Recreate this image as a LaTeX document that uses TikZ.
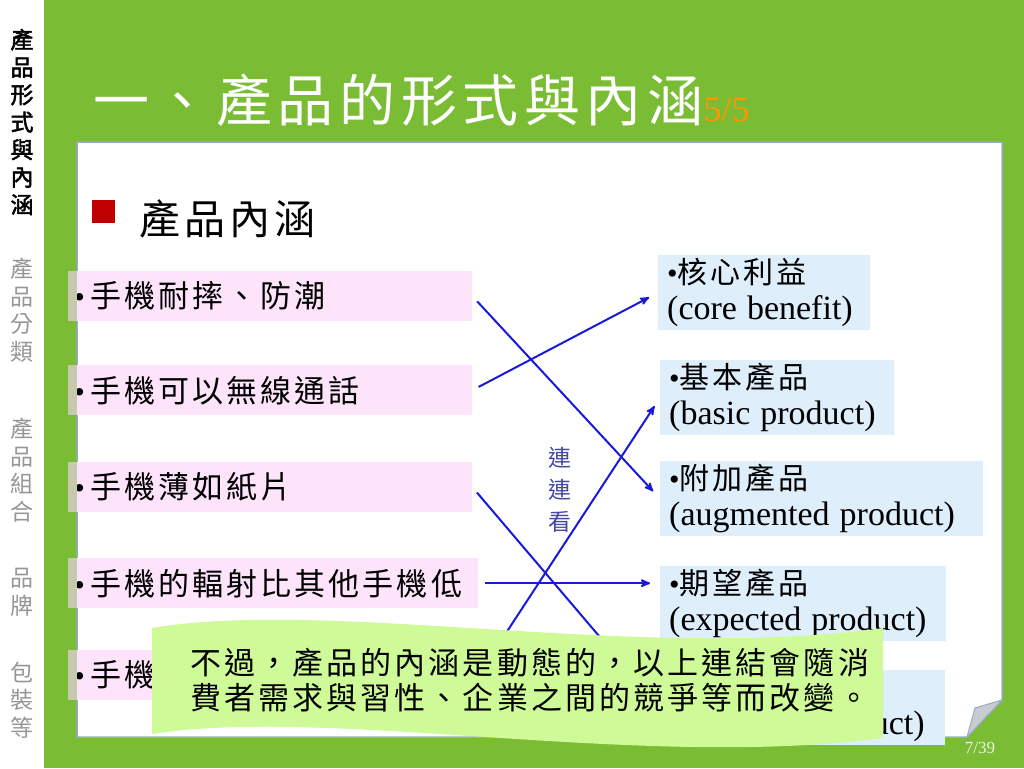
\documentclass[tikz,border=0pt]{standalone}
\usepackage{fontspec}
\setmainfont{Liberation Serif}
\newfontfamily\cjk[LetterSpace=10]{Noto Sans CJK TC}
\newfontfamily\cjkplain{Noto Sans CJK TC}
\newfontfamily\cjkbold[FakeBold=2]{Noto Sans CJK TC}
\usepackage{tikz}
\usetikzlibrary{
  arrows,
  chains,
  scopes,
  positioning
}
\definecolor{slidegreen}{RGB}{122,188,52}
\definecolor{panelline}{RGB}{150,172,194}
\definecolor{featurepink}{RGB}{253,228,250}
\definecolor{stubtan}{RGB}{200,200,176}
\definecolor{levelblue}{RGB}{222,238,251}
\definecolor{linkblue}{RGB}{25,25,215}
\definecolor{hintblue}{RGB}{70,70,165}
\definecolor{notegreen}{RGB}{206,250,152}
\definecolor{bulletred}{RGB}{192,0,0}
\definecolor{titleorange}{RGB}{255,150,0}
\definecolor{sidegray}{RGB}{150,150,150}
\definecolor{curlgray}{RGB}{200,204,208}

\begin{document}
\begin{tikzpicture}[x=1pt,y=-1pt,
      feature/.style={
         rectangle,
         anchor=north west,
         fill=featurepink,
         inner xsep=6pt,
         inner ysep=0pt,
         minimum height=50pt,
         align=left,
         font=\fontsize{31}{36}\selectfont
      },
      level/.style={
         rectangle,
         anchor=north west,
         fill=levelblue,
         inner xsep=9pt,
         inner ysep=0pt,
         minimum height=75pt,
         align=left,
         font=\fontsize{30}{36}\selectfont
      },
      sidebar/.style={
         align=center,
         inner sep=0pt,
         font=\fontsize{23}{27.5}\selectfont\cjkplain
      },
      point/.style={coordinate},>=stealth',
      tip/.style={->,draw=linkblue,line width=2pt,shorten >=10pt,shorten <=7pt},
    ]
    \useasboundingbox (0,0) rectangle (1024,768);
    % slide background
    \fill[slidegreen] (0,0) rectangle (1024,768);
    \fill[white] (0,0) rectangle (44,768);
    \node (side1) [sidebar, font=\fontsize{23}{27.5}\selectfont\cjkbold] at (22,122) {產\\品\\形\\式\\與\\內\\涵};
    \node (side2) [sidebar, text=sidegray] at (22,310) {產\\品\\分\\類};
    \node (side3) [sidebar, text=sidegray] at (22,470) {產\\品\\組\\合};
    \node (side4) [sidebar, text=sidegray] at (22,592) {品\\牌};
    \node (side5) [sidebar, text=sidegray] at (22,700) {包\\裝\\等};
    \node (title) [anchor=west, inner sep=0pt, text=white] at (93,100)
       {\fontsize{56}{60}\selectfont\cjk 一、產品的形式與內涵{\rmfamily\fontsize{36}{36}\selectfont\color{titleorange}5/5}};
    % content panel with curled corner
    \filldraw[fill=white, draw=panelline, line width=1.5pt]
       (77,142) -- (1002,142) -- (1002,700) -- (967,737) -- (77,737) -- cycle;
    \filldraw[fill=curlgray, draw=panelline, line width=1pt]
       (1002,700) -- (975,708) -- (967,737) -- cycle;
    \node (page) [text=white!85!slidegreen] at (980,748) {\fontsize{17}{17}\selectfont 7/39};
    \node (mark) [rectangle, fill=bulletred, minimum size=23pt, inner sep=0pt, anchor=north west] at (92,200) {};
    \node (head) [anchor=west, inner sep=0pt] at (139,219) {\fontsize{41}{44}\selectfont\cjk 產品內涵};
    % left column
    \node (n11) [feature, text width=392pt] at (68,271) {•\hspace{5pt}{\cjk 手機耐摔、防潮}};
    \node (n12) [feature, text width=392pt] at (68,365) {•\hspace{5pt}{\cjk 手機可以無線通話}};
    \node (n13) [feature, text width=392pt] at (68,462) {•\hspace{5pt}{\cjk 手機薄如紙片}};
    \node (n14) [feature, text width=398pt] at (68,558) {•\hspace{5pt}{\cjk 手機的輻射比其他手機低}};
    \node (n15) [feature, text width=398pt] at (68,650) {•\hspace{5pt}{\cjk 手機}};
    \foreach \n in {n11,n12,n13,n14,n15}
       \fill[stubtan] (\n.north west) rectangle ([xshift=9pt]\n.south west);
    % right column
    \node (n21) [level, text width=194pt] at (658,255) {•{\cjk 核心利益}\\{\fontsize{34}{36}\selectfont (core benefit)}};
    \node (n22) [level, text width=216pt] at (660,360) {•{\cjk 基本產品}\\{\fontsize{34}{36}\selectfont (basic product)}};
    \node (n23) [level, text width=305pt] at (660,461) {•{\cjk 附加產品}\\{\fontsize{34}{36}\selectfont (augmented product)}};
    \node (n24) [level, text width=268pt] at (660,566) {•{\cjk 期望產品}\\{\fontsize{34}{36}\selectfont (expected product)}};
    \node (n25) [level, text width=267pt] at (660,670) {•{\cjk 潛在產品}\\{\fontsize{34}{36}\selectfont (potential product)}};
    \node (hint) [sidebar, text=hintblue, font=\fontsize{23}{32}\selectfont\cjkplain] at (560,490) {連\\連\\看};
    % end points of the links
    \node (e1) [point] at (n11.east) {};
    \node (e2) [point] at (n12.east) {};
    \node (e3) [point] at (n13.east) {};
    \node (e4) [point] at (n14.east) {};
    \node (e5) [point] at (n15.east) {};
    \node (w1) [point] at (n21.west) {};
    \node (w2) [point] at (n22.west) {};
    \node (w3) [point] at (n23.west) {};
    \node (w4) [point] at (n14.east -| n24.west) {};
    \node (w5) [point] at (n25.west) {};
  { [start chain]
       \chainin (e1);
       \chainin (w3)    [join=by tip];
  }
  { [start chain]
       \chainin (e2);
       \chainin (w1)    [join=by tip];
  }
  { [start chain]
       \chainin (e3);
       \chainin (w5)    [join=by tip];
  }
  { [start chain]
       \chainin (e4);
       \chainin (w4)    [join=by tip];
  }
  { [start chain]
       \chainin (e5);
       \chainin (w2)    [join=by tip];
  }
    % note on top
    \fill[notegreen] (152,628) .. controls (330,598) and (640,662) .. (883,628)
       -- (883,738) .. controls (640,770) and (330,706) .. (152,734) -- cycle;
    \node (note) [anchor=west, inner sep=0pt, align=left, font=\fontsize{31}{35}\selectfont\cjk] at (190,680)
       {不過，產品的內涵是動態的，以上連結會隨消\\費者需求與習性、企業之間的競爭等而改變。};
\end{tikzpicture}
\end{document}
